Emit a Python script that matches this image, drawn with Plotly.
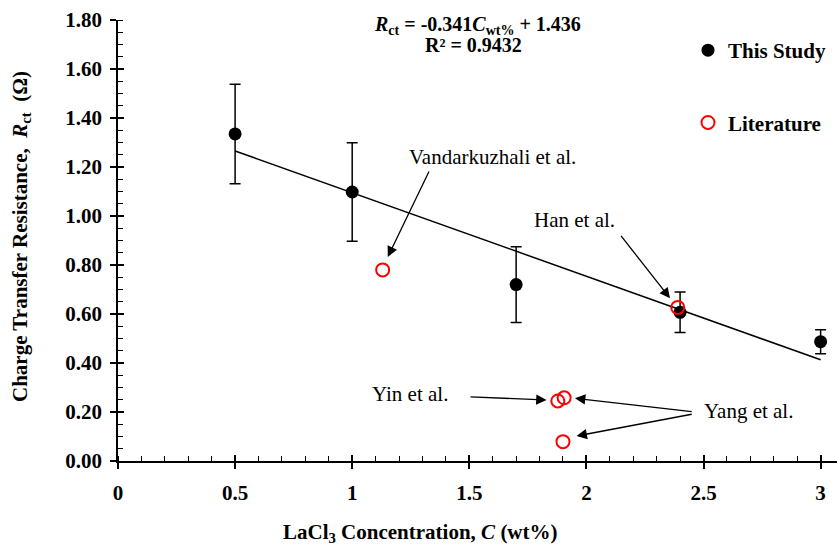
import plotly.graph_objects as go

# ---------------- data ----------------
conc = [0.5, 1.0, 1.7, 2.4, 3.0]
rct = [1.335, 1.098, 0.720, 0.607, 0.487]
rct_err = [0.203, 0.201, 0.155, 0.083, 0.049]

lit_conc = [1.13, 2.39, 1.878, 1.905, 1.900]
lit_rct = [0.780, 0.627, 0.245, 0.258, 0.079]

fit_slope = -0.341
fit_intercept = 1.436
fit_x = [0.5, 3.0]
fit_y = [fit_slope * v + fit_intercept for v in fit_x]

x_ticks = [0, 0.5, 1, 1.5, 2, 2.5, 3]
x_tick_labels = ["0", "0.5", "1", "1.5", "2", "2.5", "3"]
y_ticks = [0, 0.2, 0.4, 0.6, 0.8, 1.0, 1.2, 1.4, 1.6, 1.8]
y_tick_labels = ["0.00", "0.20", "0.40", "0.60", "0.80", "1.00", "1.20", "1.40", "1.60", "1.80"]

x_range = [0, 3.07]
y_range = [0, 1.8]

FONT = "Liberation Serif, Times New Roman, serif"

fig = go.Figure()

fig.add_trace(go.Scatter(
    x=fit_x, y=fit_y, mode="lines",
    line=dict(color="black", width=1.5),
    showlegend=False, hoverinfo="skip"))

fig.add_trace(go.Scatter(
    x=conc, y=rct, mode="markers", name="This Study",
    legendgroup="a",
    marker=dict(color="black", size=13, symbol="circle"),
    error_y=dict(type="data", array=rct_err, visible=True,
                 color="black", thickness=1.5, width=5.5)))

fig.add_trace(go.Scatter(
    x=lit_conc, y=lit_rct, mode="markers", name="Literature",
    legendgroup="b",
    marker=dict(color="red", size=13, symbol="circle-open",
                line=dict(color="red", width=2))))

# invisible trace for overlay axes (inside major ticks)
fig.add_trace(go.Scatter(x=[None], y=[None], xaxis="x2", yaxis="y2",
                         showlegend=False, hoverinfo="skip"))

tickfont = dict(family=FONT, size=21, color="black", weight="bold")

fig.update_layout(
    width=837, height=551,
    margin=dict(l=118, r=0, t=20, b=90, autoexpand=False),
    paper_bgcolor="white", plot_bgcolor="white",
    font=dict(family=FONT, color="black"),
    xaxis=dict(range=x_range, showgrid=False, zeroline=False,
               showline=True, linecolor="black", linewidth=1.5,
               ticks="outside", ticklen=6, tickwidth=1.5, tickcolor="black",
               tickmode="array", tickvals=x_ticks, ticktext=x_tick_labels,
               tickfont=tickfont, ticklabelstandoff=6,
               minor=dict(ticks="inside", tick0=0, dtick=0.1, ticklen=5,
                          tickwidth=1.3, tickcolor="black", showgrid=False)),
    yaxis=dict(range=y_range, showgrid=False, zeroline=False,
               showline=True, linecolor="black", linewidth=1.5,
               ticks="outside", ticklen=6, tickwidth=1.5, tickcolor="black",
               tickmode="array", tickvals=y_ticks, ticktext=y_tick_labels,
               tickfont=tickfont, ticklabelstandoff=4,
               minor=dict(ticks="inside", tick0=0, dtick=0.05, ticklen=5,
                          tickwidth=1.3, tickcolor="black", showgrid=False)),
    xaxis2=dict(overlaying="x", range=x_range, showgrid=False, zeroline=False,
                showline=False, ticks="inside", ticklen=6, tickwidth=1.5,
                tickcolor="black", tickmode="array", tickvals=x_ticks,
                showticklabels=False, side="bottom"),
    yaxis2=dict(overlaying="y", range=y_range, showgrid=False, zeroline=False,
                showline=False, ticks="inside", ticklen=6, tickwidth=1.5,
                tickcolor="black", tickmode="array", tickvals=y_ticks,
                showticklabels=False, side="left"),
    legend=dict(x=688 / 837, y=1 - 30 / 551, xref="container", yref="container",
                xanchor="left", yanchor="top", bgcolor="rgba(0,0,0,0)",
                font=dict(family=FONT, size=21, color="black", weight="bold"),
                traceorder="grouped", tracegroupgap=42, itemwidth=30),
    showlegend=True,
)

annots = []
# axis titles
annots.append(dict(xref="paper", yref="paper", x=(420 - 118) / 719, y=-(533 - 461) / 441,
                   text="<b>LaCl<sub>3</sub> Concentration, <i>C</i> (wt%)</b>",
                   showarrow=False, font=dict(family=FONT, size=21, color="black"),
                   xanchor="center", yanchor="middle"))
annots.append(dict(xref="paper", yref="paper", x=-(118 - 21) / 719, y=(461 - 237) / 441,
                   text="<b>Charge Transfer Resistance,  <i>R</i><sub>ct</sub>  (Ω)</b>",
                   showarrow=False, textangle=-90,
                   font=dict(family=FONT, size=21, color="black"),
                   xanchor="center", yanchor="middle"))
# equation
annots.append(dict(x=1.533, y=1.776, xref="x", yref="y",
                   text="<b><i>R</i><sub>ct</sub> = -0.341<i>C</i><sub>wt%</sub> + 1.436</b>",
                   showarrow=False, font=dict(family=FONT, size=20, color="black")))
annots.append(dict(x=1.516, y=1.697, xref="x", yref="y",
                   text="<b>R² = 0.9432</b>",
                   showarrow=False, font=dict(family=FONT, size=20, color="black")))

# literature labels
labels = [("Vandarkuzhali et al.", 1.600, 1.241),
          ("Han et al.", 1.950, 0.984),
          ("Yin et al.", 1.246, 0.273),
          ("Yang et al.", 2.690, 0.204)]
for t, lx, ly in labels:
    annots.append(dict(x=lx, y=ly, xref="x", yref="y", text=t, showarrow=False,
                       font=dict(family=FONT, size=21, color="black")))

# arrows (tail -> head)
arrows = [((1.331, 1.188), (1.152, 0.833)),
          ((2.143, 0.925), (2.357, 0.664)),
          ((1.499, 0.262), (1.830, 0.249)),
          ((2.456, 0.201), (1.951, 0.256)),
          ((2.456, 0.192), (1.958, 0.102))]
for (tx, ty), (hx, hy) in arrows:
    annots.append(dict(x=hx, y=hy, ax=tx, ay=ty, xref="x", yref="y",
                       axref="x", ayref="y", text="", showarrow=True,
                       arrowhead=2, arrowsize=1.6, arrowwidth=1.3,
                       arrowcolor="black", standoff=0, startstandoff=0))

fig.update_layout(annotations=annots)

fig.write_html("out.html")
